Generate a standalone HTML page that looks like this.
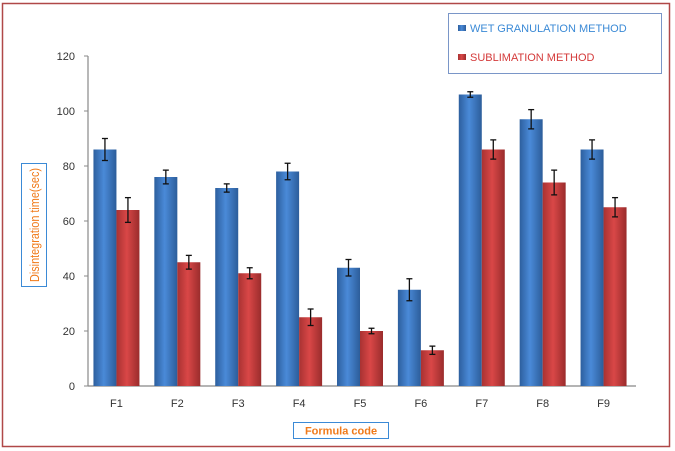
<!DOCTYPE html>
<html><head><meta charset="utf-8"><style>
body{margin:0;background:#fff;}
svg{display:block;font-family:"Liberation Sans",sans-serif;}
</style></head><body>
<svg id="chart" width="675" height="451" viewBox="0 0 675 451">
<defs>
<linearGradient id="gb" x1="0" x2="1"><stop offset="0" stop-color="#2d5f9e"/><stop offset="0.45" stop-color="#4a8ad8"/><stop offset="1" stop-color="#2c5d9a"/></linearGradient>
<linearGradient id="gr" x1="0" x2="1"><stop offset="0" stop-color="#a83232"/><stop offset="0.45" stop-color="#d94747"/><stop offset="1" stop-color="#9a2c2c"/></linearGradient>
</defs>
<rect x="2.5" y="3.5" width="667" height="443" fill="#fff" stroke="#b04848" stroke-width="1.5"/>
<g id="axes"></g>
<g id="bars"></g>
<g>
<rect x="448.5" y="13.5" width="213" height="60" fill="#fff" stroke="#7a96c8" stroke-width="1"/>
<rect x="458" y="25" width="8" height="6" fill="url(#gb)"/>
<text x="470" y="32" font-size="11" fill="#3b8ad6">WET GRANULATION METHOD</text>
<rect x="458" y="54" width="8" height="6" fill="url(#gr)"/>
<text x="470" y="61" font-size="11" fill="#d43a3a">SUBLIMATION METHOD</text>
</g>
<g>
<rect x="21.5" y="163.5" width="25" height="123" fill="#fff" stroke="#3b8ad6" stroke-width="1"/>
<text transform="translate(39,225) rotate(-90)" text-anchor="middle" font-size="13" textLength="114" lengthAdjust="spacingAndGlyphs" fill="#f07a1a">Disintegration time(sec)</text>
</g>
<g>
<rect x="293.5" y="422.5" width="95" height="16" fill="#fff" stroke="#3b8ad6" stroke-width="1"/>
<text x="341" y="434.5" text-anchor="middle" font-size="11" font-weight="bold" fill="#f07a1a">Formula code</text>
</g>
</svg>
<script>
const categories=["F1","F2","F3","F4","F5","F6","F7","F8","F9"];
const wetValues=[86,76,72,78,43,35,106,97,86];
const wetErrors=[4,2.5,1.5,3,3,4,1,3.5,3.5];
const subValues=[64,45,41,25,20,13,86,74,65];
const subErrors=[4.5,2.5,2,3,1,1.5,3.5,4.5,3.5];
const yTicks=[0,20,40,60,80,100,120];

const NS="http://www.w3.org/2000/svg";
const x0=88,x1=636,y0=386,yTop=56,yMax=120;
const bw=(x1-x0)/categories.length;
function y(v){return y0-(v/yMax)*(y0-yTop);}
function xc(i){return x0+bw*(i+0.5);}
function mk(tag,attrs,parent){const e=document.createElementNS(NS,tag);for(const k in attrs)e.setAttribute(k,attrs[k]);parent.appendChild(e);return e;}
const axes=document.getElementById('axes'),bars=document.getElementById('bars');
const ya=mk('line',{x1:x0,y1:yTop,x2:x0,y2:y0,stroke:'#888','stroke-width':1.2},axes);


const xa=mk('line',{x1:x0,y1:y0,x2:x1,y2:y0,stroke:'#888','stroke-width':1.2},axes);


yTicks.forEach(t=>{
  mk('line',{x1:x0-4,y1:y(t),x2:x0,y2:y(t),stroke:'#888'},axes);
  const tx=mk('text',{x:x0-13,y:y(t)+4,'text-anchor':'end','font-size':11,fill:'#333'},axes);
  tx.textContent=t;
  
  
});
const barW=23;
function err(cx,v,e){
  const g=mk('g',{stroke:'#111','stroke-width':1.3},bars);
  mk('line',{x1:cx,y1:y(v+e),x2:cx,y2:y(v-e)},g);
  mk('line',{x1:cx-3,y1:y(v+e),x2:cx+3,y2:y(v+e)},g);
  mk('line',{x1:cx-3,y1:y(v-e),x2:cx+3,y2:y(v-e)},g);
}
categories.forEach((c,i)=>{
  const cx=xc(i)-2;
  const b=mk('rect',{x:cx-barW,y:y(wetValues[i]),width:barW,height:y0-y(wetValues[i]),fill:'url(#gb)'},bars);
  
  
  const r=mk('rect',{x:cx,y:y(subValues[i]),width:barW,height:y0-y(subValues[i]),fill:'url(#gr)'},bars);
  
  
  err(cx-barW/2,wetValues[i],wetErrors[i]);
  err(cx+barW/2,subValues[i],subErrors[i]);
  const t=mk('text',{x:cx,y:407,'text-anchor':'middle','font-size':11,fill:'#333'},axes);
  t.textContent=c;
  
  
});
</script>
</body></html>
